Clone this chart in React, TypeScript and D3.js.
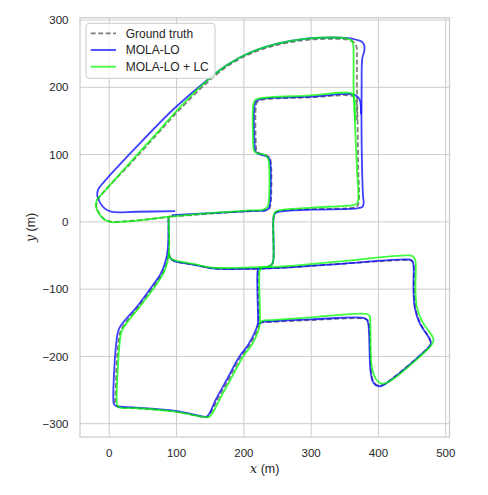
import React from 'react';
import * as d3 from 'd3';

type Pt = [number, number];

// axis ticks
const xTicks = [0, 100, 200, 300, 400, 500];
const yTicks = [-300, -200, -100, 0, 100, 200, 300];
const legendLabels = ['Ground truth', 'MOLA-LO', 'MOLA-LO + LC'];

// ground truth (m)
const gtOuter: Pt[] = [
  [93, 8], [60, 4], [25, 1], [4, 0], [-6, 3], [-14, 11], [-19, 22], [-18, 31], [-12, 40],
  [30, 85], [70, 129], [100, 162], [140, 202], [175, 231], [210, 250], [250, 263], [290, 270],
  [330, 272], [352, 271], [362, 268], [367, 262], [368, 240], [368, 200], [369, 150], [370, 80],
  [371, 32], [369, 24], [362, 21], [300, 19], [252, 16], [246, 13], [244, 6], [244, -55],
  [242, -63], [237, -67], [225, -69],
];
const gtInner: Pt[] = [
  [93, 8], [150, 12], [210, 16], [232, 17], [238, 20], [240, 28], [240, 90], [238, 96], [233, 99],
  [223, 102], [219, 106], [218, 115], [218, 172], [220, 178], [225, 181], [300, 185], [355, 188],
  [363, 186], [367, 180], [368, 150],
];
const gtLowerLeft: Pt[] = [
  [88, 6], [88, -40], [86, -57], [80, -75], [68, -93], [45, -124], [18, -160], [14, -175],
  [9, -262], [9, -271], [13, -275], [40, -277], [98, -282], [140, -290], [146, -290], [150, -285],
  [162, -262], [178, -233], [196, -200], [210, -181], [220, -160], [222, -150], [222, -140],
  [221, -80], [222, -71], [226, -68],
];
const gtLowerRight: Pt[] = [
  [88, -45], [91, -54], [96, -58], [127, -64], [152, -69], [200, -70], [262, -68], [350, -62],
  [445, -57], [450, -58], [452, -63], [453, -100], [455, -128], [462, -150], [476, -174],
  [478, -181], [474, -187], [420, -233], [405, -243], [397, -242], [392, -236], [389, -220],
  [386, -152], [384, -146], [380, -144], [300, -146], [240, -149], [226, -150], [222, -153],
];

// MOLA-LO (m)
const loOuter: Pt[] = [
  [98, 16], [40, 15], [3, 15], [-7, 20], [-14, 29], [-18, 40], [-16, 49], [-9, 58], [40, 111],
  [95, 167], [140, 206], [175, 233], [210, 252], [250, 265], [290, 272], [330, 274], [355, 273],
  [366, 271], [375, 268], [379, 262], [379, 254], [376, 243], [375, 200], [375, 120], [377, 40],
  [378, 27], [376, 22], [368, 20], [300, 18], [252, 15], [246, 12], [244, 5], [244, -55],
  [242, -63], [237, -66], [225, -69],
];
const loInner: Pt[] = [
  [93, 10], [150, 13], [210, 16], [232, 17], [237, 20], [239, 28], [239, 90], [237, 95],
  [232, 98], [222, 101], [217, 105], [216, 115], [216, 173], [218, 179], [223, 182], [300, 186],
  [356, 190], [366, 188], [372, 182], [374, 160],
];
const loLowerLeft: Pt[] = [
  [88, 6], [87, -40], [84, -57], [77, -76], [65, -94], [42, -125], [15, -158], [11, -175],
  [6, -262], [7, -271], [11, -274], [40, -276], [98, -281], [138, -289], [144, -290], [148, -286],
  [159, -263], [175, -234], [193, -201], [207, -182], [218, -160], [221, -150], [221, -140],
  [220, -80], [221, -71], [225, -68],
];
const loLowerRight: Pt[] = [
  [88, -45], [91, -54], [96, -58], [127, -64], [152, -69], [200, -70], [262, -68], [350, -62],
  [445, -56], [450, -58], [452, -63], [452, -100], [454, -128], [461, -150], [476, -174],
  [478, -181], [474, -187], [420, -234], [404, -244], [396, -243], [391, -236], [388, -220],
  [385, -152], [383, -146], [379, -143], [300, -145], [240, -148], [226, -149], [222, -152],
];

// MOLA-LO + LC (m)
const lcOuter: Pt[] = [
  [93, 8], [60, 4], [25, 0.5], [3, -0.5], [-7, 3], [-15, 12], [-20, 24], [-18, 33], [-12, 40],
  [30, 87], [70, 131], [100, 165], [140, 205], [175, 233], [210, 252], [250, 265], [290, 272],
  [330, 274], [350, 273], [358, 271], [362, 266], [363, 250], [363, 200], [365, 150], [368, 80],
  [370, 32], [368, 27], [362, 25], [300, 21], [252, 17], [246, 14], [244, 6], [244, -55],
  [242, -63], [237, -66], [225, -68],
];
const lcInner: Pt[] = [
  [93, 8], [150, 13], [210, 17], [229, 18], [235, 22], [237, 30], [237, 90], [235, 96],
  [230, 100], [220, 102], [215, 106], [214, 115], [214, 174], [216, 180], [221, 183], [300, 188],
  [356, 192], [361, 190], [364, 184], [365, 150],
];
const lcLowerLeft: Pt[] = [
  [88, 6], [89, -40], [87, -57], [81, -75], [70, -93], [47, -124], [19, -161], [16, -175],
  [11, -265], [12, -273], [16, -276], [40, -277], [98, -282], [140, -290], [148, -290],
  [153, -285], [165, -262], [181, -233], [199, -200], [213, -181], [222, -160], [224, -150],
  [224, -140], [223, -80], [224, -71], [228, -67],
];
const lcLowerRight: Pt[] = [
  [88, -45], [91, -54], [96, -57], [127, -63], [152, -68], [200, -68], [262, -66], [350, -58],
  [447, -50], [452, -52], [455, -58], [455, -100], [457, -126], [465, -148], [480, -170],
  [482, -177], [478, -184], [424, -232], [410, -240], [403, -240], [396, -233], [390, -215],
  [388, -152], [387, -140], [383, -137], [300, -142], [240, -146], [228, -147], [224, -150],
];

const groundTruth = [gtOuter, gtInner, gtLowerLeft, gtLowerRight];
const molaLo = [loOuter, loInner, loLowerLeft, loLowerRight];
const molaLoLc = [lcOuter, lcInner, lcLowerLeft, lcLowerRight];

const W = 488;
const H = 495;
const FONT = 'Liberation Sans, Arial, sans-serif';
const MATH = 'DejaVu Serif, serif';
const TXT = '#262626';
const GRID = '#cccccc';

const GT_COLOR = 'rgba(110,110,110,0.9)';
const LO_COLOR = 'rgba(0,0,255,0.75)';
const LC_COLOR = 'rgba(0,255,0,0.75)';

const fmt = (v: number) => (v < 0 ? '\u2212' + Math.abs(v) : String(v));

export default function App() {
  const x = d3.scaleLinear().domain([-43.5, 505.6]).range([80, 449.5]);
  const y = d3.scaleLinear().domain([-319.8, 303.4]).range([437, 17.7]);

  const line = d3
    .line<Pt>()
    .x((d) => x(d[0]))
    .y((d) => y(d[1]))
    .curve(d3.curveCatmullRom.alpha(0.5));

  const [x0, x1] = x.range();
  const [yb, yt] = y.range();

  return (
    <svg width={W} height={H} style={{ position: 'absolute', left: 0, top: 0, background: '#fff' }}>
      {/* grid */}
      {xTicks.map((t) => (
        <line key={'gx' + t} x1={x(t)} x2={x(t)} y1={yt} y2={yb} stroke={GRID} strokeWidth={1} />
      ))}
      {yTicks.map((t) => (
        <line key={'gy' + t} x1={x0} x2={x1} y1={y(t)} y2={y(t)} stroke={GRID} strokeWidth={1} />
      ))}

      {/* trajectories */}
      {groundTruth.map((seg, i) => (
        <path key={'gt' + i} d={line(seg) || ''} fill="none" stroke={GT_COLOR} strokeWidth={1.7}
          strokeDasharray="5,2.5" />
      ))}
      {molaLo.map((seg, i) => (
        <path key={'lo' + i} d={line(seg) || ''} fill="none" stroke={LO_COLOR} strokeWidth={1.8} />
      ))}
      {molaLoLc.map((seg, i) => (
        <path key={'lc' + i} d={line(seg) || ''} fill="none" stroke={LC_COLOR} strokeWidth={1.8} />
      ))}

      {/* frame */}
      <rect x={x0} y={yt} width={x1 - x0} height={yb - yt} fill="none" stroke={GRID} strokeWidth={1.25} />

      {/* tick labels */}
      {xTicks.map((t) => (
        <text key={'tx' + t} x={x(t)} y={456.5} textAnchor="middle" fontFamily={FONT} fontSize={11.5} fill={TXT}>
          {fmt(t)}
        </text>
      ))}
      {yTicks.map((t) => (
        <text key={'ty' + t} x={68.5} y={y(t)} dy="0.36em" textAnchor="end" fontFamily={FONT} fontSize={11.5} fill={TXT}>
          {fmt(t)}
        </text>
      ))}

      {/* axis labels */}
      <text x={(x0 + x1) / 2} y={473} textAnchor="middle" fontFamily={FONT} fontSize={12.5} fill={TXT}>
        <tspan fontFamily={MATH} fontStyle="italic">x</tspan> (m)
      </text>
      <text transform={`translate(35,${(yt + yb) / 2}) rotate(-90)`} textAnchor="middle" fontFamily={FONT}
        fontSize={12.5} fill={TXT}>
        <tspan fontFamily={MATH} fontStyle="italic">y</tspan> (m)
      </text>

      {/* legend */}
      <g>
        <rect x={86} y={23.3} width={129} height={55} rx={3} fill="rgba(255,255,255,0.8)" stroke={GRID}
          strokeWidth={1} />
        {legendLabels.map((lab, i) => {
          const ly = 33.3 + i * 16.7;
          const stroke = i === 0 ? GT_COLOR : i === 1 ? LO_COLOR : LC_COLOR;
          return (
            <g key={lab}>
              <line x1={90.7} x2={116} y1={ly} y2={ly} stroke={stroke} strokeWidth={1.8}
                strokeDasharray={i === 0 ? '5,2.5' : undefined} />
              <text x={125.7} y={ly} dy="0.36em" fontFamily={FONT} fontSize={12} fill={TXT}>
                {lab}
              </text>
            </g>
          );
        })}
      </g>
    </svg>
  );
}
